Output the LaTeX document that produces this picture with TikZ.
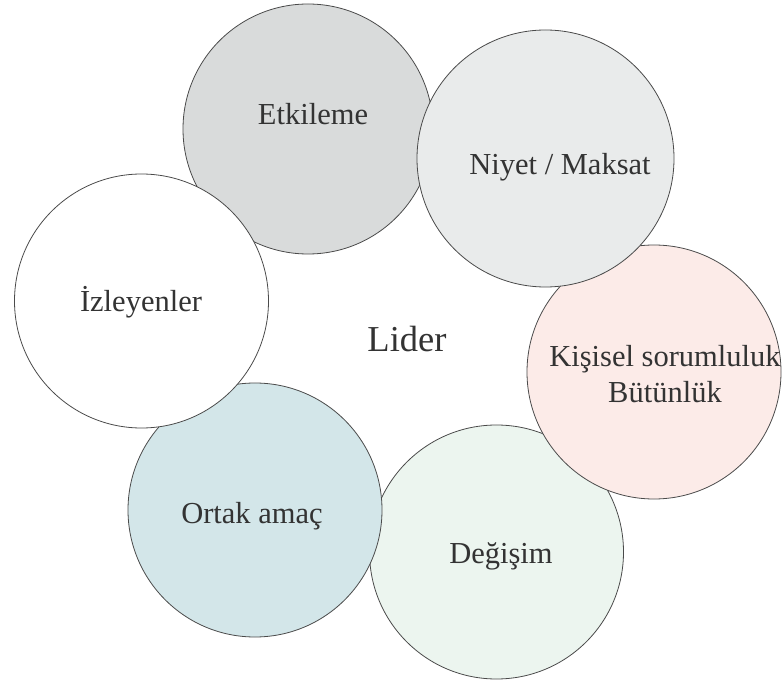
\documentclass[tikz,border=0pt]{standalone}
\usepackage{fontspec}
\setmainfont{Liberation Serif}
\definecolor{ringline}{HTML}{4A4A4A}
\definecolor{inktext}{HTML}{333333}
\definecolor{fillEtk}{HTML}{D9DBDB}
\definecolor{fillNiy}{HTML}{E9EBEB}
\definecolor{fillKis}{HTML}{FCEBE8}
\definecolor{fillOrt}{HTML}{D3E6E9}
\definecolor{fillDeg}{HTML}{ECF5EF}
\begin{document}
\begin{tikzpicture}[x=1pt,y=-1pt,
  ring/.style={circle,draw=ringline,line width=0.8pt,inner sep=0pt,minimum size=254pt},
  ringtext/.style={text=inktext,anchor=base,inner sep=0pt,font=\fontsize{30.5}{36.6}\selectfont},
  centretext/.style={text=inktext,anchor=base,inner sep=0pt,font=\fontsize{36.5}{44}\selectfont}]
  \useasboundingbox (0,0) rectangle (782,684);
  \fill[white] (0,0) rectangle (782,684);
  % circles, lowest first
  \node[ring,fill=fillDeg] (cdeg) at (496.5,552) {};
  \node[ring,fill=fillOrt] (cort) at (255,510) {};
  \node[ring,fill=fillKis] (ckis) at (654,372) {};
  \node[ring,fill=fillEtk,minimum size=250pt] (cetk) at (308,129) {};
  \node[ring,fill=white] (cizl) at (141.5,301) {};
  \node[ring,fill=fillNiy,minimum size=257pt] (cniy) at (545.5,158.5) {};
  % labels
  \node[ringtext] (tetk) at (313,125) {Etkileme};
  \node[ringtext] (tniy) at (560,175) {Niyet / Maksat};
  \node[ringtext] (tizl) at (141,312) {İzleyenler};
  \node[ringtext] (tkis1) at (665,367) {Kişisel sorumluluk};
  \node[ringtext] (tkis2) at (665,403) {Bütünlük};
  \node[ringtext] (tort) at (252,523) {Ortak amaç};
  \node[ringtext] (tdeg) at (501,563) {Değişim};
  \node[centretext] (tlid) at (407,352) {Lider};
\end{tikzpicture}
\end{document}
